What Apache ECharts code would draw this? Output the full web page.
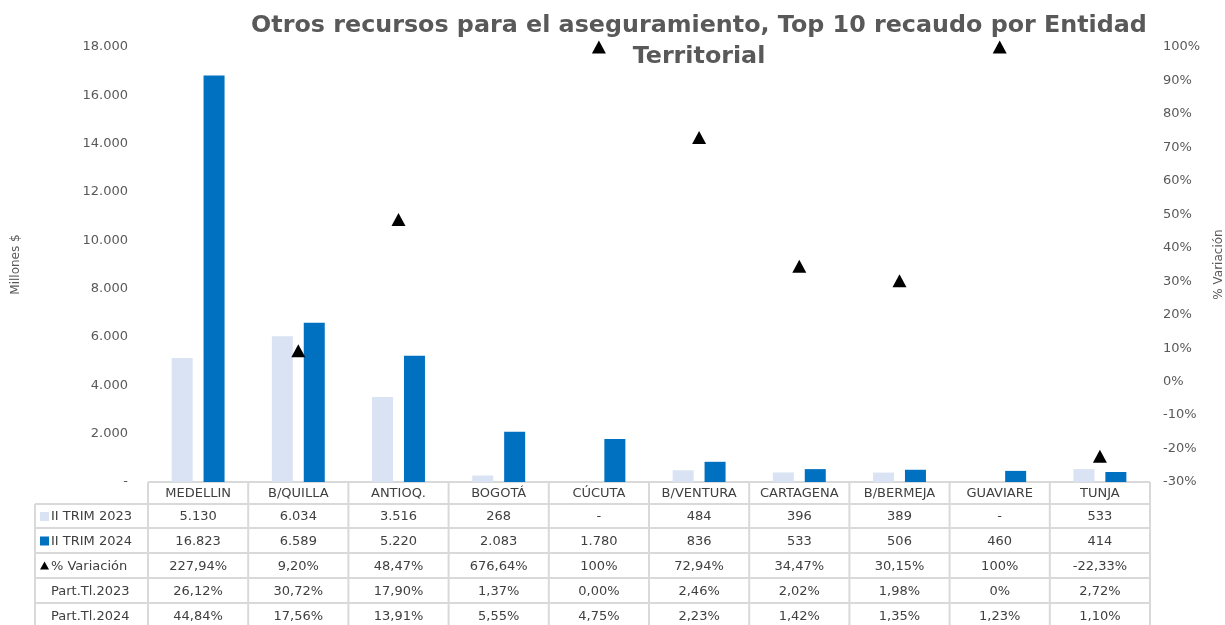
<!DOCTYPE html>
<html>
<head>
<meta charset="utf-8">
<script src="https://cdn.jsdelivr.net/npm/echarts@6/dist/echarts.min.js"></script>
<style>
html,body{margin:0;padding:0;background:#fff;}
#chart{width:1225px;height:625px;}
</style>
</head>
<body>
<div id="chart"></div>
<script>
const categories = ['MEDELLIN','B/QUILLA','ANTIOQ.','BOGOTÁ','CÚCUTA','B/VENTURA','CARTAGENA','B/BERMEJA','GUAVIARE','TUNJA'];
const trim2023 = [5130, 6034, 3516, 268, null, 484, 396, 389, null, 533];
const trim2024 = [16823, 6589, 5220, 2083, 1780, 836, 533, 506, 460, 414];
const variacion = [227.94, 9.20, 48.47, 676.64, 100, 72.94, 34.47, 30.15, 100, -22.33];
const part2023 = ['26,12%','30,72%','17,90%','1,37%','0,00%','2,46%','2,02%','1,98%','0%','2,72%'];
const part2024 = ['44,84%','17,56%','13,91%','5,55%','4,75%','2,23%','1,42%','1,35%','1,23%','1,10%'];
const rowLabels = ['II TRIM 2023','II TRIM 2024','% Variación','Part.Tl.2023','Part.Tl.2024'];

const FONT = 'DejaVu Sans, Verdana, sans-serif';
const C2023 = '#dae3f3', C2024 = '#0070c0';
const GL = 148, GR = 1150, GT = 47, GB = 482;

function fmtNum(v){
  if (v === null || v === undefined || v === 0) return '-';
  return String(v).replace(/\B(?=(\d{3})+(?!\d))/g, '.');
}
function fmtPct(v){
  if (Number.isInteger(v)) return v + '%';
  return v.toFixed(2).replace('.', ',') + '%';
}

// table graphic
const rowsY = [GB, 504, 528, 553, 578, 603, 628];
const colW = (GR - GL) / categories.length;
const tableLeft = 35;
const lineStyle = {stroke:'#d9d9d9', lineWidth:2};
const g = [];
g.push({type:'line', shape:{x1:GL, y1:rowsY[0], x2:GR, y2:rowsY[0]}, style:lineStyle, silent:true});
for (let i = 1; i < rowsY.length; i++) {
  g.push({type:'line', shape:{x1:tableLeft, y1:rowsY[i], x2:GR, y2:rowsY[i]}, style:lineStyle, silent:true});
}
g.push({type:'line', shape:{x1:tableLeft, y1:rowsY[1], x2:tableLeft, y2:rowsY[6]}, style:lineStyle, silent:true});
for (let c = 0; c <= categories.length; c++) {
  const x = GL + c * colW;
  g.push({type:'line', shape:{x1:x, y1:rowsY[0], x2:x, y2:rowsY[6]}, style:lineStyle, silent:true});
}
const txt = (x, y, s, align) => ({type:'text', x:x, y:y, silent:true,
  style:{text:s, font:'13px ' + FONT, fill:'#404040', align:align || 'center', verticalAlign:'middle'}});
categories.forEach((c, i) => g.push(txt(GL + (i + 0.5) * colW, (rowsY[0] + rowsY[1]) / 2 + 1, c)));
const rowVals = [
  trim2023.map(fmtNum),
  trim2024.map(fmtNum),
  variacion.map(fmtPct),
  part2023,
  part2024
];
rowVals.forEach((vals, r) => {
  const yc = (rowsY[r + 1] + rowsY[r + 2]) / 2 + 1;
  vals.forEach((v, i) => g.push(txt(GL + (i + 0.5) * colW, yc, v)));
  g.push(txt(51, yc, rowLabels[r], 'left'));
  if (r === 0 || r === 1) {
    g.push({type:'rect', silent:true, shape:{x:40, y:yc - 5, width:9, height:9}, style:{fill: r === 0 ? C2023 : C2024}});
  } else if (r === 2) {
    g.push({type:'polygon', silent:true, shape:{points:[[44.5, yc - 5],[49, yc + 3],[40, yc + 3]]}, style:{fill:'#000'}});
  }
});

const chart = echarts.init(document.getElementById('chart'));
chart.setOption({
  animation:false,
  backgroundColor:'#fff',
  title:{
    text:'Otros recursos para el aseguramiento, Top 10 recaudo por Entidad\nTerritorial',
    left:694, top:5, textAlign:'center',
    textStyle:{fontFamily:FONT, fontWeight:'bold', fontSize:23.8, color:'#595959', lineHeight:31}
  },
  grid:{left:GL, right:1225 - GR, top:GT, bottom:625 - GB, containLabel:false, outerBoundsMode:'none'},
  xAxis:{
    type:'category', data:categories,
    axisLine:{show:false}, axisTick:{show:false}, axisLabel:{show:false}, splitLine:{show:false}
  },
  yAxis:[
    {
      type:'value', min:0, max:18000, interval:2000,
      name:'Millones $', nameLocation:'middle', nameGap:126, nameRotate:90,
      nameTextStyle:{fontFamily:FONT, fontSize:12, color:'#595959'},
      axisLine:{show:false}, axisTick:{show:false}, splitLine:{show:false},
      axisLabel:{fontFamily:FONT, fontSize:13, color:'#595959', margin:20, formatter:fmtNum}
    },
    {
      type:'value', min:-30, max:100, interval:10, position:'right',
      name:'% Variación', nameLocation:'middle', nameGap:63, nameRotate:90,
      nameTextStyle:{fontFamily:FONT, fontSize:12, color:'#595959'},
      axisLine:{show:false}, axisTick:{show:false}, splitLine:{show:false},
      axisLabel:{fontFamily:FONT, fontSize:13, color:'#595959', margin:13, formatter:v => v + '%'}
    }
  ],
  series:[
    {name:'II TRIM 2023', type:'bar', data:trim2023, barWidth:21, barGap:'52%', itemStyle:{color:C2023}},
    {name:'II TRIM 2024', type:'bar', data:trim2024, barWidth:21, barGap:'52%', itemStyle:{color:C2024}},
    {name:'% Variación', type:'scatter', yAxisIndex:1, data:variacion, symbol:'triangle', symbolSize:[14,13], clip:true, itemStyle:{color:'#000', opacity:1}}
  ],
  graphic:g
});
</script>
</body>
</html>
